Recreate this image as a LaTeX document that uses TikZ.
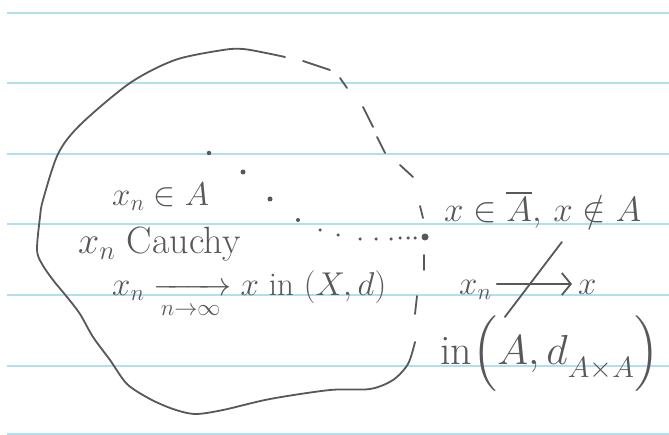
\documentclass[tikz,border=0pt]{standalone}
\usepackage{fix-cm}
\usepackage{amsmath}
\usepackage{amssymb}
\usetikzlibrary{arrows.meta, positioning, calc}

\definecolor{ruled}{RGB}{178,222,242}
\definecolor{pencil}{RGB}{88,88,88}

\begin{document}
\begin{tikzpicture}[
    x=1pt, y=-1pt,
    ruleline/.style={draw=ruled, line width=2.2pt},
    stroke/.style={draw=pencil, line width=1.8pt, line cap=round, line join=round},
    handtext/.style={text=pencil, inner sep=0pt, anchor=base west, font=\fontsize{33}{40}\selectfont},
    bigtext/.style={handtext, font=\fontsize{38}{44}\selectfont},
    seqdot/.style={circle, fill=pencil, inner sep=0pt, minimum size=#1},
    seqdot/.default=3.5pt,
    handarrow/.style={stroke, -{Straight Barb[length=9pt, width=22pt, line width=1.8pt]}}
]

\fill[white] (0,0) rectangle (669,435);
\useasboundingbox (0,0) rectangle (669,435);

\foreach \y in {13,83,154,224,295,366,434}
  \draw[ruleline] (7,\y) -- (669,\y);

% set A: solid part of the boundary
\draw[stroke] plot[smooth] coordinates {
  (415,342) (408,364) (393,380) (370,389) (330,390) (270,399) (223,410)
  (195,414) (173,409) (150,399) (127,384) (110,360) (93,337) (80,314)
  (67,297) (53,280) (42,264) (37,250) (40,217) (43,200) (58,154) (80,125)
  (130,83) (175,60) (223,50) (243,49) (266,53) (285,57)};

% missing part of the boundary
\foreach \ax/\ay/\bx/\by in {303/61/330/70, 340/78/347/88, 363/107/373/127,
    377/137/385/153, 400/165/413/177, 420/206/423/218, 424/255/424/270,
    417/296/415/314}
  \draw[stroke] (\ax,\ay) -- (\bx,\by);

% the sequence
\foreach \px/\py/\s [count=\i] in {209/153/4.5pt, 243/172/5pt, 270/199/5pt,
    298/220/4pt, 320/230/3.5pt, 338/235/3.5pt, 360/239/3.5pt, 376/239/3.5pt,
    391/239/3.5pt, 400/238/3.5pt, 408/238/3.5pt, 415/238/3.5pt}
  \node[seqdot=\s] (d\i) at (\px,\py) {};
\node[seqdot=7pt] (limit) at (425,237) {};

\node[handtext] (inA) at (112,206) {$x_n \in A$};
\node[bigtext] (cauchy) at (78,254) {$x_n$ Cauchy};
\node[handtext] (conv) at (112,296) {$x_n \xrightarrow[n\to\infty]{\hspace{14pt}} x$ in $(X,d)$};

\node[handtext, font=\fontsize{35}{42}\selectfont] (closure) at (444,222) {$x \in \overline{A},\, x \notin A$};

\node[handtext] (xnR) at (459,295) {$x_n$};
\node[handtext] (xR) at (578,295) {$x$};
\draw[handarrow] ([xshift=5pt, yshift=11pt]xnR.base east) -- ([xshift=-6pt, yshift=11pt]xR.base west);
\coordinate (cross) at ($(xnR.base east)!0.5!(xR.base west) + (0,-11)$);
\draw[stroke] ($(cross)+(27,-42)$) -- ($(cross)+(-30,33)$);

\node[handtext, font=\fontsize{42}{48}\selectfont] (space) at (440,364)
  {in$\Bigl(A, d_{\raisebox{-7pt}{$\scriptstyle A\times A$}}\Bigr)$};

\end{tikzpicture}
\end{document}
